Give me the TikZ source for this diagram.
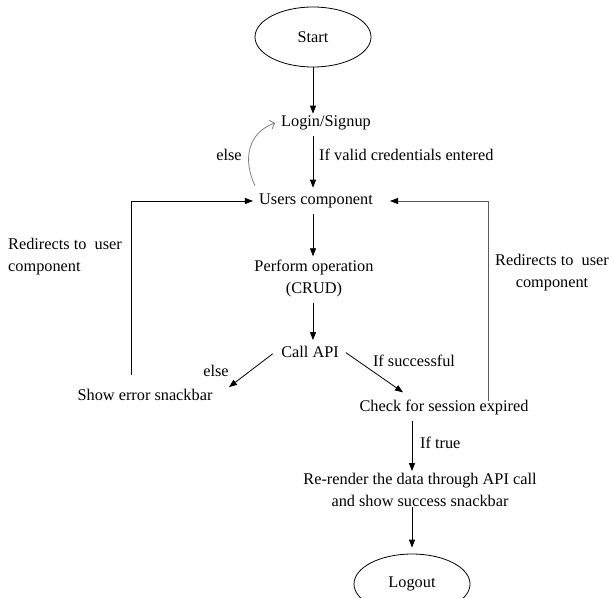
\documentclass[tikz,border=0pt]{standalone}
\usepackage{fontspec}
\setmainfont{Liberation Serif}
\usetikzlibrary{arrows.meta,shapes.geometric}

\begin{document}
\begin{tikzpicture}[x=1pt,y=-1pt,font=\fontsize{16.3}{22}\selectfont]
    \tikzstyle{term} = [ellipse, draw, line width=0.8pt, minimum width=116pt, minimum height=60pt]
    \tikzstyle{txt} = [inner sep=6pt, align=center]
    \tikzstyle{arrow} = [line width=0.8pt,-{Triangle[length=8pt,width=6pt]}]
    \tikzstyle{back} = [line width=0.8pt,draw=gray,-{Straight Barb[length=4pt,width=9pt]}]
    \useasboundingbox (0,0) rectangle (609,597);

    \node (start) [term] at (313,37) {Start};
    \node (login) [txt] at (326,123) {Login/Signup};
    \node (users) [txt] at (316,201) {Users component};
    \node (perform) [txt] at (314,278) {Perform operation\\ (CRUD)};
    \node (callapi) [txt] at (310,352) {Call API};
    \node (error) [txt] at (145,395) {Show error snackbar};
    \node (check) [txt] at (444,407) {Check for session expired};
    \node (render) [txt] at (420,490) {Re-render the data through API call\\ and show success snackbar};
    \node (logout) [term] at (412,584) {Logout};

    % labels on the connectors
    \node (valid) [anchor=west, inner sep=0pt] at (319,155) {If valid credentials entered};
    \node (elseone) [inner sep=0pt] at (229,155) {else};
    \node (elsetwo) [inner sep=0pt] at (216,371) {else};
    \node (success) [inner sep=0pt] at (414,361) {If successful};
    \node (istrue) [anchor=west, inner sep=0pt] at (420,443) {If true};
    \node (redirleft) [anchor=west, align=left, inner sep=0pt] at (8,257) {Redirects to\ \ user\\ component};
    \node (redirright) [align=center, inner sep=0pt] at (552,273) {Redirects to\ \ user\\ component};

    \draw [arrow] (start.south) -- ([yshift=-4pt]start.south |- login.north);
    \draw [arrow] (login.south -| start) -- (users.north -| start);
    \draw [arrow] (users.south -| start) -- ([yshift=-3pt]perform.north -| start);
    \draw [arrow] (perform.south -| start) -- (callapi.north -| start);
    \draw [arrow, shorten <=3pt, shorten >=13pt] (callapi.west) -- (error.east);
    \draw [arrow, shorten <=1pt] (callapi.east) -- ([xshift=-41pt,yshift=1pt]check.north);
    \draw [arrow] (check.south -| logout) -- ([yshift=-4pt]render.north -| logout);
    \draw [arrow, shorten <=-6pt, shorten >=6pt] (render.south -| logout) -- (logout.north);

    % going back
    \draw [back] ([xshift=2pt,yshift=2pt]users.north west) .. controls +(-12,-25) and +(-28,10) .. (login.west);
    \draw [arrow] ([shift={(-14pt,8pt)}]error.north) |- (users.west);
    \draw [line width=0.8pt, draw=black!65, -{Triangle[length=8pt,width=6pt,black]}, shorten >=11pt] ([shift={(44pt,-8pt)}]check.north) |- (users.east);

\end{tikzpicture}
\end{document}
